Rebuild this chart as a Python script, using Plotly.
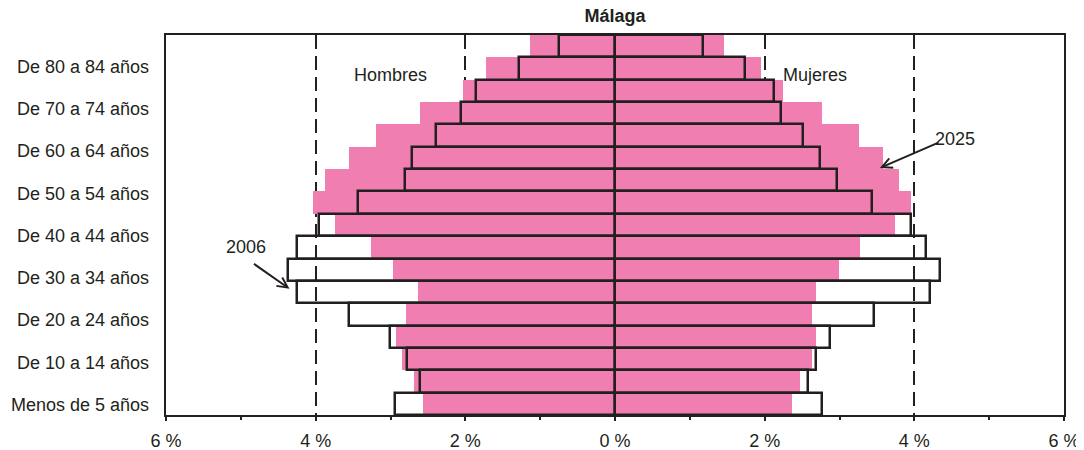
import plotly.graph_objects as go

# ---- data ----
age_labels = ["Menos de 5 años", "De 5 a 9 años", "De 10 a 14 años", "De 15 a 19 años",
              "De 20 a 24 años", "De 25 a 29 años", "De 30 a 34 años", "De 35 a 39 años",
              "De 40 a 44 años", "De 45 a 49 años", "De 50 a 54 años", "De 55 a 59 años",
              "De 60 a 64 años", "De 65 a 69 años", "De 70 a 74 años", "De 75 a 79 años",
              "De 80 a 84 años", "85 y más años"]
bar_groups = ["0-4", "5-9", "10-14", "15-19", "20-24", "25-29", "30-34", "35-39", "40-44",
              "45-49", "50-54", "55-59", "60-64", "65-69", "70-74", "75-79", "80 y más"]

hombres_2025 = [2.56, 2.69, 2.85, 2.92, 2.79, 2.63, 2.96, 3.26, 3.74, 4.03, 3.87, 3.55, 3.19, 2.60, 2.03, 1.72, 1.13]
hombres_2006 = [2.94, 2.61, 2.78, 3.01, 3.56, 4.25, 4.37, 4.25, 3.95, 3.43, 2.80, 2.71, 2.39, 2.06, 1.86, 1.28, 0.75]
mujeres_2025 = [2.37, 2.47, 2.63, 2.69, 2.63, 2.69, 2.99, 3.28, 3.74, 3.96, 3.80, 3.58, 3.26, 2.76, 2.24, 1.95, 1.45]
mujeres_2006 = [2.77, 2.58, 2.68, 2.87, 3.46, 4.21, 4.34, 4.15, 3.95, 3.43, 2.97, 2.74, 2.51, 2.22, 2.12, 1.74, 1.18]

x_ticks = [-6, -4, -2, 0, 2, 4, 6]
x_ticktext = ["6 %", "4 %", "2 %", "0 %", "2 %", "4 %", "6 %"]
x_minor = [-5, -3, -1, 1, 3, 5]

PINK = "#F17EB0"
INK = "#231F20"
FONT = "Liberation Sans, Arial, sans-serif"

fig = go.Figure()

# 2025 (pink filled)
fig.add_trace(go.Bar(y=bar_groups, x=[-v for v in hombres_2025], orientation="h",
                     marker=dict(color=PINK, line=dict(width=0)), showlegend=False))
fig.add_trace(go.Bar(y=bar_groups, x=mujeres_2025, orientation="h",
                     marker=dict(color=PINK, line=dict(width=0)), showlegend=False))
# 2006 (outline only)
fig.add_trace(go.Bar(y=bar_groups, x=[-v for v in hombres_2006], orientation="h",
                     marker=dict(color="rgba(0,0,0,0)", line=dict(color=INK, width=2.5)),
                     showlegend=False))
fig.add_trace(go.Bar(y=bar_groups, x=mujeres_2006, orientation="h",
                     marker=dict(color="rgba(0,0,0,0)", line=dict(color=INK, width=2.5)),
                     showlegend=False))
# label axis
fig.add_trace(go.Scatter(y=age_labels, x=[None] * len(age_labels), yaxis="y2",
                         mode="markers", showlegend=False, hoverinfo="skip"))

W, H = 1076, 442  # page body adds an 8px offset
fig.update_layout(
    width=W, height=H,
    margin=dict(l=158, r=19.5, t=27, b=34.5, pad=0, autoexpand=False),
    paper_bgcolor="white", plot_bgcolor="white",
    barmode="overlay", bargap=0,
    font=dict(family=FONT, size=18, color=INK),
    title=dict(text="<b>Málaga</b>", x=0.5, xref="paper", xanchor="center",
               y=1 - 8 / H, yref="container", yanchor="middle",
               font=dict(family="Liberation Sans Narrow, Liberation Sans, Arial", size=18, color=INK)),
    xaxis=dict(range=[-6, 6], tickvals=x_ticks, ticktext=x_ticktext, automargin=False,
               ticks="outside", ticklen=4, tickwidth=2, tickcolor=INK,
               minor=dict(tickvals=x_minor, ticks="outside", ticklen=3, tickwidth=1.5, tickcolor=INK,
                          showgrid=False),
               showgrid=True, gridcolor=INK, gridwidth=2, griddash="14px,7px",
               zeroline=True, zerolinecolor=INK, zerolinewidth=2.5,
               showline=True, linecolor=INK, linewidth=2, mirror=True,
               ticklabelstandoff=4, tickfont=dict(size=18)),
    yaxis=dict(type="category", categoryorder="array", categoryarray=bar_groups,
               range=[-0.5, len(bar_groups) - 0.5], automargin=False,
               showticklabels=False, ticks="", showgrid=False, zeroline=False,
               showline=True, linecolor=INK, linewidth=2, mirror=True),
    yaxis2=dict(type="category", categoryorder="array", categoryarray=age_labels,
                overlaying="y", side="left", range=[-0.5, len(age_labels) - 0.5],
                automargin=False,
                tickvals=age_labels[::2], ticks="", showgrid=False, zeroline=False,
                showline=False, ticklabelstandoff=16, tickfont=dict(size=18)),
)

arrow = dict(showarrow=True, arrowhead=5, arrowsize=1, arrowwidth=2, arrowcolor=INK, text="")
fig.add_annotation(x=-3.0, y=0.926, xref="x", yref="paper", text="Hombres", showarrow=False)
fig.add_annotation(x=2.67, y=0.926, xref="x", yref="paper", text="Mujeres", showarrow=False)
fig.add_annotation(x=-4.93, y=0.443, xref="x", yref="paper", text="2006", showarrow=False)
fig.add_annotation(x=4.54, y=0.759, xref="x", yref="paper", text="2025", showarrow=False)
fig.add_annotation(x=-4.35, y=0.332, xref="x", yref="paper", ax=-37, ay=-26, **arrow)
fig.add_annotation(x=3.54, y=0.650, xref="x", yref="paper", ax=60, ay=-26, **arrow)

fig.write_html("out.html")
